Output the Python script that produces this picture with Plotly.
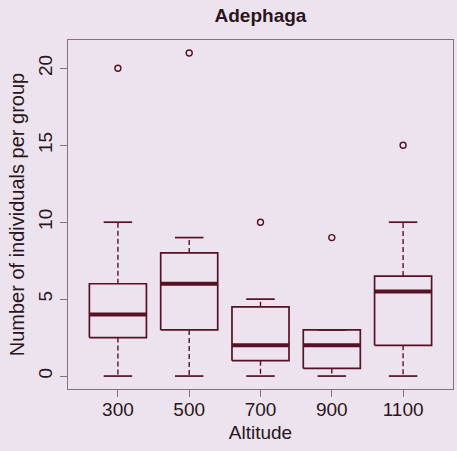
import plotly.graph_objects as go

# Altitude groups and box statistics (counts of Adephaga per group)
altitudes = ["300", "500", "700", "900", "1100"]
lower_whisker = [0, 0, 0, 0, 0]
q1 = [2.5, 3, 1, 0.5, 2]
median = [4, 6, 2, 2, 5.5]
q3 = [6, 8, 4.5, 3, 6.5]
upper_whisker = [10, 9, 5, 3, 10]
outliers = [[20], [21], [10], [9], [15]]

LINE = "#561224"
FRAME = "#86707e"
TEXT = "#2a1620"
BG = "#ede3ee"

half = 0.4      # half box width
staple = 0.2    # half staple width

box_x, box_y = [], []
med_x, med_y = [], []
wh_x, wh_y = [], []
st_x, st_y = [], []
out_x, out_y = [], []
for i in range(len(altitudes)):
    p = i + 1
    box_x += [p - half, p + half, p + half, p - half, p - half, None]
    box_y += [q1[i], q1[i], q3[i], q3[i], q1[i], None]
    med_x += [p - half, p + half, None]
    med_y += [median[i], median[i], None]
    wh_x += [p, p, None, p, p, None]
    wh_y += [q3[i], upper_whisker[i], None, q1[i], lower_whisker[i], None]
    st_x += [p - staple, p + staple, None, p - staple, p + staple, None]
    st_y += [upper_whisker[i], upper_whisker[i], None, lower_whisker[i], lower_whisker[i], None]
    for v in outliers[i]:
        out_x.append(p)
        out_y.append(v)

fig = go.Figure()
fig.add_trace(go.Scatter(x=wh_x, y=wh_y, mode="lines",
                         line=dict(color=LINE, width=1.4, dash="5px,3px")))
fig.add_trace(go.Scatter(x=st_x, y=st_y, mode="lines",
                         line=dict(color=LINE, width=1.7)))
fig.add_trace(go.Scatter(x=box_x, y=box_y, mode="lines",
                         line=dict(color=LINE, width=1.7)))
fig.add_trace(go.Scatter(x=med_x, y=med_y, mode="lines",
                         line=dict(color=LINE, width=4)))
fig.add_trace(go.Scatter(x=out_x, y=out_y, mode="markers",
                         marker=dict(symbol="circle-open", size=6,
                                     color=LINE, line=dict(width=1.4))))

font = "Liberation Sans, Arial, sans-serif"
fig.update_layout(
    width=457, height=451,
    margin=dict(l=68, r=4, t=40, b=62),
    paper_bgcolor=BG, plot_bgcolor=BG,
    showlegend=False,
    font=dict(family=font, color=TEXT, size=19),
    title=dict(text="<b>Adephaga</b>", x=0.57, xanchor="center",
               y=0.967, yanchor="middle", font=dict(size=19, color=TEXT)),
    xaxis=dict(range=[0.3, 5.7], tickmode="array",
               tickvals=list(range(1, len(altitudes) + 1)), ticktext=altitudes,
               showgrid=False, zeroline=False,
               showline=True, mirror=True, linecolor=FRAME, linewidth=1.3,
               ticks="outside", ticklen=7, tickcolor=FRAME,
               ticklabelstandoff=-4,
               title=dict(text="Altitude", standoff=6, font=dict(size=19))),
    yaxis=dict(range=[-0.84, 21.84], tickvals=[0, 5, 10, 15, 20],
               tickangle=-90,
               showgrid=False, zeroline=False,
               showline=True, mirror=True, linecolor=FRAME, linewidth=1.3,
               ticks="outside", ticklen=7, tickcolor=FRAME,
               title=dict(text="Number of individuals per group", standoff=5,
                          font=dict(size=20))),
)

fig.write_html("out.html")
